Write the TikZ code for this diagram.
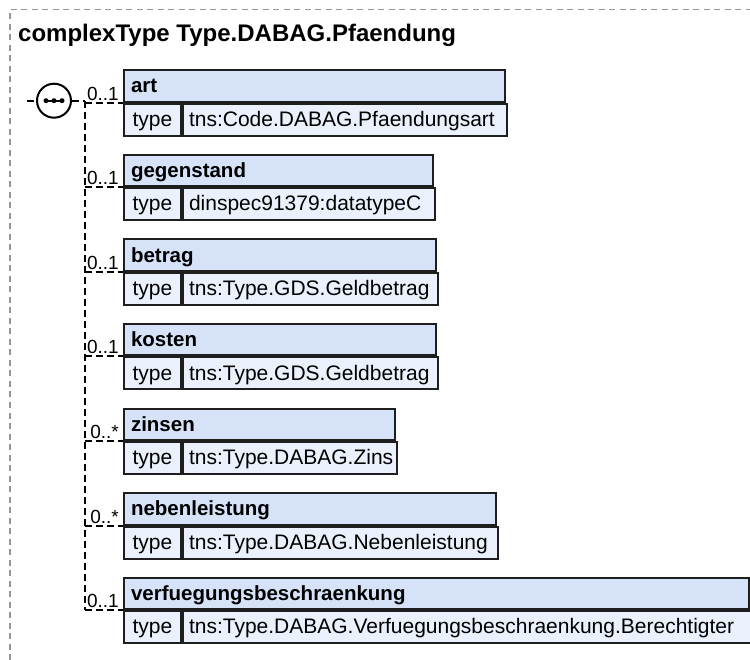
\documentclass[tikz,border=0pt]{standalone}
\usepackage{fontspec}
\setmainfont{Liberation Sans}
\definecolor{hdrfill}{RGB}{214,226,248}
\definecolor{typefill}{RGB}{235,241,252}
\definecolor{framegray}{RGB}{150,150,150}
\definecolor{boxline}{RGB}{30,30,30}
\tikzset{
  hdr/.style={draw=boxline, line width=2pt, fill=hdrfill, rectangle, anchor=north west,
    inner xsep=7pt, inner ysep=0pt, minimum height=31.3pt, text height=18pt, text depth=4pt,
    align=left, font=\fontsize{20.5}{24}\selectfont\bfseries},
  tkey/.style={draw=boxline, line width=2pt, fill=typefill, rectangle, anchor=north west,
    inner xsep=0pt, inner ysep=0pt, minimum width=57pt, minimum height=32pt,
    text height=17.4pt, text depth=4pt, font=\fontsize{21}{24}\selectfont},
  tval/.style={draw=boxline, line width=2pt, fill=typefill, rectangle, anchor=north west,
    inner xsep=6pt, inner ysep=0pt, minimum height=32pt, text height=17.4pt, text depth=4pt,
    align=left, font=\fontsize{21}{24}\selectfont},
  conn/.style={draw=black, line width=2pt, dash pattern=on 7pt off 4pt},
  mult/.style={anchor=base east, inner sep=0pt, font=\fontsize{19}{20}\selectfont},
  frame/.style={draw=framegray, line width=1.2pt, dash pattern=on 6pt off 4.5pt},
}
\newcommand{\xelem}[7]{%
  % #1 name, #2 top, #3 header text width, #4 value text width, #5 label, #6 type, #7 multiplicity
  \node[hdr, text width=#3pt] (#1) at (123,#2) {#5};
  \node[tkey] (#1k) at (#1.south west) {type};
  \node[tval, text width=#4pt] (#1v) at (#1k.north east) {#6};
  \draw[conn] (#1.south west -| trunk) -- (#1.south west);
  \node[mult] (#1m) at ([xshift=-4pt,yshift=2.5pt]#1.south west) {#7};
}
\begin{document}
\begin{tikzpicture}[x=1pt,y=-1pt]
\useasboundingbox (0,0) rectangle (750,660);
\draw[frame] (10,660) -- (10,9.5) -- (750,9.5);
\node[anchor=base west, inner sep=0pt, font=\fontsize{24}{28}\selectfont\bfseries] (title) at (18,42) {complexType Type.DABAG.Pfaendung};
% sequence compositor
\node[draw=black, circle, line width=2pt, minimum size=34pt, inner sep=0pt, fill=white] (seq) at (54,100.7) {};
\draw[line width=1.8pt] ([xshift=-9pt]seq.center) -- ([xshift=9pt]seq.center);
\fill ([xshift=-8pt]seq.center) circle (2.5pt);
\fill (seq.center) circle (2.5pt);
\fill ([xshift=8pt]seq.center) circle (2.5pt);
\coordinate (in) at (27,100.7);
\coordinate (trunk) at (84.5,100.7);
\draw[conn] (in) -- (seq.west);
\draw[conn] (seq.east) -- (trunk);
\xelem{art}{69.3}{367}{312}{art}{tns:Code.DABAG.Pfaendungsart}{0..1}
\xelem{geg}{153.9}{294.5}{239.5}{gegenstand}{dinspec91379:datatypeC}{0..1}
\xelem{bet}{238.5}{297.5}{242.5}{betrag}{tns:Type.GDS.Geldbetrag}{0..1}
\xelem{kos}{323.1}{297.5}{242.5}{kosten}{tns:Type.GDS.Geldbetrag}{0..1}
\xelem{zin}{407.7}{256.5}{201.5}{zinsen}{tns:Type.DABAG.Zins}{0..*}
\xelem{neb}{492.3}{358}{303}{nebenleistung}{tns:Type.DABAG.Nebenleistung}{0..*}
\xelem{ver}{576.9}{611}{556}{verfuegungsbeschraenkung}{tns:Type.DABAG.Verfuegungsbeschraenkung.Berechtigter}{0..1}
\draw[conn] (trunk) -- (trunk |- ver.south west);
\end{tikzpicture}
\end{document}
